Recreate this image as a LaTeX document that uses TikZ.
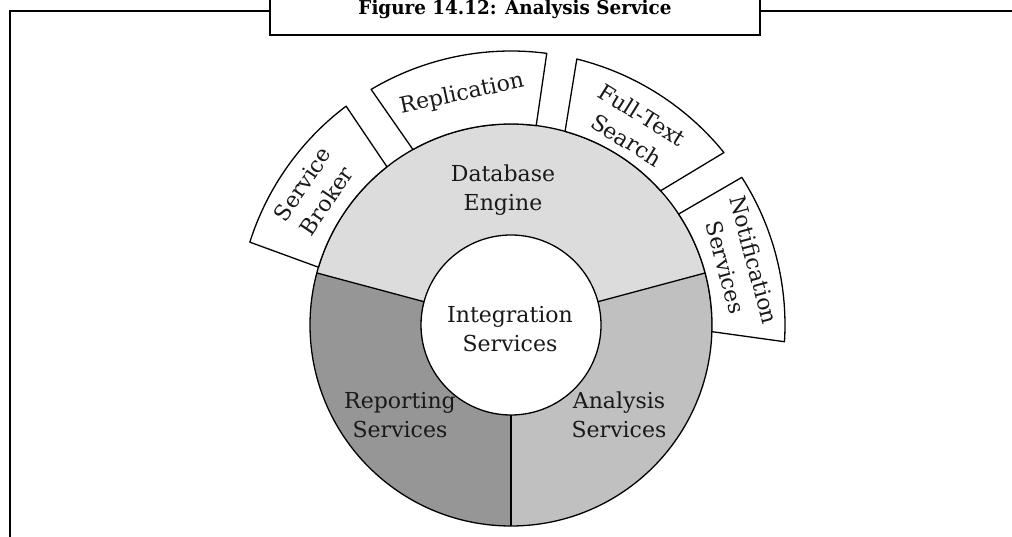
\documentclass[tikz,border=0pt]{standalone}
\usepackage{graphicx}
\usepackage{fontspec}
\setmainfont{DejaVu Serif}
\definecolor{dbgray}{RGB}{220,220,220}
\definecolor{repgray}{RGB}{150,150,150}
\definecolor{angray}{RGB}{192,192,192}
\begin{document}
\begin{tikzpicture}[x=1pt,y=1pt,
  lbl/.style={font=\fontsize{22}{29.5}\selectfont, align=center, inner sep=0pt, text=black!90},
  seg/.style={draw, line width=1.3pt, fill=white, line join=round},
  ring/.style={line width=1.3pt},
  frameline/.style={line width=2pt}]
\useasboundingbox (0,0) rectangle (1012,536);
% frame
\draw[frameline] (10,-5) -- (10,524.5) -- (270,524.5);
\draw[frameline, fill=white] (270,545) -- (270,501) -- (760,501) -- (760,545);
\draw[frameline] (760,524.5) -- (1017,524.5);
\node[anchor=base, inner sep=0pt] (title) at (515,521) {\resizebox{313pt}{14.5pt}{\bfseries Figure 14.12: Analysis Service}};
% wheel
\begin{scope}[shift={(511,211)}]
  \coordinate (c) at (0,0);
  \fill[dbgray] (15:90pt) -- (15:201pt) arc[start angle=15,end angle=165,radius=201pt] -- (165:90pt) arc[start angle=165,end angle=15,radius=90pt] -- cycle;
  \fill[repgray] (165:90pt) -- (165:201pt) arc[start angle=165,end angle=270,radius=201pt] -- (270:90pt) arc[start angle=270,end angle=165,radius=90pt] -- cycle;
  \fill[angray] (270:90pt) -- (270:201pt) arc[start angle=270,end angle=375,radius=201pt] -- (375:90pt) arc[start angle=375,end angle=270,radius=90pt] -- cycle;
  \draw[ring] (15:90pt) -- (15:201pt);
  \draw[ring] (165:90pt) -- (165:201pt);
  \draw[ring] (270:90pt) -- (270:201pt);
  \draw[ring] (c) circle[radius=201pt];
  \draw[ring, fill=white] (c) circle[radius=90pt];
  % outer segments
  \draw[seg] (163.3:201pt) -- (162.4:274pt) arc[start angle=162.4,end angle=127,radius=274pt] -- (128.1:201pt) arc[start angle=128.1,end angle=163.3,radius=201pt] -- cycle;
  \draw[seg] (119.2:201pt) -- (120.7:274pt) arc[start angle=120.7,end angle=82.5,radius=274pt] -- (82.8:201pt) arc[start angle=82.8,end angle=119.2,radius=201pt] -- cycle;
  \draw[seg] (74.4:201pt) -- (76.1:274pt) arc[start angle=76.1,end angle=39,radius=274pt] -- (41.9:201pt) arc[start angle=41.9,end angle=74.4,radius=201pt] -- cycle;
  \draw[seg] (33.5:201pt) -- (32.6:274pt) arc[start angle=32.6,end angle=-3.5,radius=274pt] -- (-1.9:201pt) arc[start angle=-1.9,end angle=33.5,radius=201pt] -- cycle;
  % outer labels
  \node[lbl, rotate=56] (broker) at (146:237pt) {Service\\Broker};
  \node[lbl, rotate=12] (repl) at (102:236pt) {Replication};
  \node[lbl, rotate=-32] (fts) at (58:233pt) {Full-Text\\Search};
  \node[lbl, rotate=-75] (notif) at (15:237pt) {Notification\\Services};
\end{scope}
% inner labels
\node[lbl] (db) at (503,346) {Database\\Engine};
\node[lbl] (integ) at (510,207) {Integration\\Services};
\node[lbl] (rep) at (400,121) {Reporting\\Services};
\node[lbl] (ana) at (619,121) {Analysis\\Services};
\end{tikzpicture}
\end{document}
